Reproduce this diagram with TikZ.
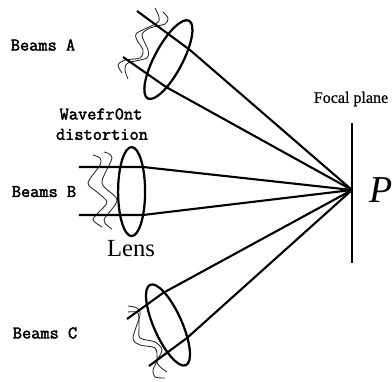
\documentclass[tikz,border=0pt]{standalone}
\usepackage{fontspec}
\setmainfont{Liberation Serif}
\newfontfamily\beamfont[FakeBold=2.2]{Latin Modern Mono}
\newfontfamily\planefont[FakeBold=0.8]{Liberation Serif}
\usetikzlibrary{shapes.geometric}
\tikzset{
  beam/.style={line width=1.5pt, draw=black, line join=round},
  lens/.style={ellipse, draw=black, line width=1.6pt, inner sep=0pt, minimum width=2.2cm, minimum height=0.7cm},
  wave/.style={line width=0.6pt, draw=black!85, smooth},
  beamlabel/.style={font=\beamfont\fontsize{12.7}{14}\selectfont, inner sep=0pt},
  planelabel/.style={font=\planefont\fontsize{11.4}{13}\selectfont, inner sep=0pt},
  lenslabel/.style={font=\fontsize{17.5}{20}\selectfont, inner sep=0pt},
  pointlabel/.style={font=\itshape\fontsize{27}{30}\selectfont, inner sep=0pt},
}
\begin{document}
\begin{tikzpicture}
\useasboundingbox (0,0) rectangle (9.8,9.55);
\coordinate (focus) at (8.8,4.8);
\coordinate (planetop) at (8.8,6.475);
\coordinate (planebot) at (8.8,2.975);
\coordinate (atopin) at (3.425,9.275);
\coordinate (atopout) at (4.75,8.3);
\coordinate (abotin) at (3.075,8.125);
\coordinate (abotout) at (4.15,7.375);
\coordinate (btopin) at (1.975,5.375);
\coordinate (btopout) at (3.575,5.375);
\coordinate (bbotin) at (1.975,4.175);
\coordinate (bbotout) at (3.575,4.175);
\coordinate (ctopin) at (3.175,1.575);
\coordinate (ctopout) at (4.075,2.225);
\coordinate (cbotin) at (3.725,0.4);
\coordinate (cbotout) at (4.675,1.1);
\draw[wave] plot coordinates {(3.875,9.35) (3.975,9.125) (3.925,8.975) (3.425,8.725) (3.425,8.55) (3.575,8.3) (3.5,8.1) (3.125,8.05) (2.95,7.925) (3.05,7.725)};
\draw[wave] plot coordinates {(4.075,9.25) (4.2,9.1) (4.125,8.95) (3.75,8.85) (3.55,8.675) (3.7,8.3) (3.675,8.1) (3.2,7.975) (3.125,7.8) (3.2,7.575)};
\draw[wave] plot coordinates {(2.325,5.675) (2.5,5.6) (2.5,5.425) (2.2,4.975) (2.425,4.75) (2.675,4.5) (2.45,4.225) (2.325,4.05) (2.55,3.875)};
\draw[wave] plot coordinates {(2.6,5.75) (2.8,5.6) (2.55,4.975) (2.925,4.55) (2.6,4.05) (2.8,3.825)};
\draw[wave] plot coordinates {(3.2,1.9) (3.425,1.85) (3.5,1.675) (3.325,1.1) (3.5,0.925) (3.875,0.85) (3.925,0.55) (3.825,0.3) (3.875,0.125) (4.125,0.1)};
\draw[wave] plot coordinates {(3.2,1.75) (3.45,1.725) (3.475,1.375) (3.5,1.1) (3.875,1) (4.05,0.8) (3.925,0.475) (4.175,0.25)};
\draw[beam] (atopin) -- (atopout) -- (focus);
\draw[beam] (abotin) -- (abotout) -- (focus);
\draw[beam] (btopin) -- (btopout) -- (focus);
\draw[beam] (bbotin) -- (bbotout) -- (focus);
\draw[beam] (ctopin) -- (ctopout) -- (focus);
\draw[beam] (cbotin) -- (cbotout) -- (focus);
\draw[beam] (planetop) -- (planebot);
\node[lens, rotate=62] (lensA) at (4.21,8.06) {};
\node[lens, rotate=90, minimum width=2.225cm, minimum height=0.675cm] (lensB) at (3.29,4.76) {};
\node[lens, rotate=114] (lensC) at (4.2,1.425) {};
\node[beamlabel] (beamsA) at (1.075,8.425) {Beams A};
\node[beamlabel] (beamsB) at (1.1,4.76) {Beams B};
\node[beamlabel] (beamsC) at (1.125,1.225) {Beams C};
\node[beamlabel] (wavefront) at (2.525,6.7) {Wavefr0nt};
\node[beamlabel] (distortion) at (2.55,6.19) {distortion};
\node[lenslabel] (lenstext) at (3.275,3.325) {Lens};
\node[planelabel] (planetext) at (8.775,7.075) {Focal plane};
\node[pointlabel] (pointP) at (9.525,4.8) {P};
\end{tikzpicture}
\end{document}
